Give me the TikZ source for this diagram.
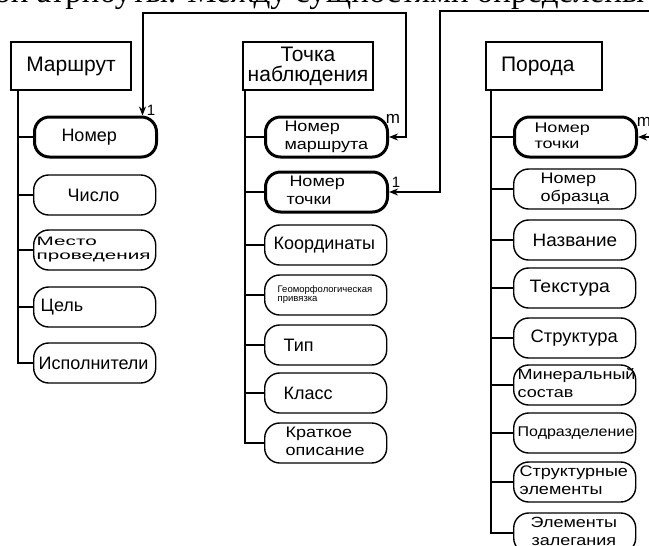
\documentclass[tikz,border=0pt]{standalone}
\usepackage{fontspec}
\setmainfont{Liberation Sans}
\newfontfamily\serifrm{Liberation Serif}
\usetikzlibrary{arrows.meta}
\newcommand\atx[4]{\makebox[122pt][l]{\hspace*{#1pt}\scalebox{#2}[#3]{#4}}}
\newcommand\twol[2]{\begin{tabular}{@{}l@{}}#1\\#2\end{tabular}}
\newcommand\twoc[2]{\begin{tabular}{@{}c@{}}#1\\#2\end{tabular}}
\begin{document}
\begin{tikzpicture}[x=1pt,y=-1pt,
  ent/.style={draw,line width=1.3pt,inner sep=0pt,minimum height=48pt,font=\fontsize{21}{20}\selectfont,align=center},
  attr/.style={draw,line width=1.4pt,rounded corners=15pt,minimum height=40pt,inner sep=0pt,anchor=west,font=\fontsize{18}{21}\selectfont},
  key/.style={attr,line width=3pt},
  trunk/.style={line width=2.2pt},
  branch/.style={line width=1.4pt},
  conn/.style={line width=2pt},
  tipd/.tip={Stealth[length=9pt,width=7pt]},
  lbl/.style={font=\fontsize{15}{15}\selectfont,inner sep=0pt}]
\useasboundingbox (0,0) rectangle (649,546);
\clip (0,0) rectangle (649,546);

% top text (cut-off line of the page)
\node[anchor=base west,inner sep=0pt,font=\serifrm\fontsize{33}{33}\selectfont] (toptext) at (295,2) {\llap{свои атрибуты. Между }сущностями определены};

% entities
\node[ent,minimum width=120pt] (marsh) at (71,66) {Маршрут};
\node[ent,minimum width=130pt] (tochka) at (308,66) {Точка\\наблюдения};
\node[ent,minimum width=116pt] (poroda) at (544,66) {\makebox[116pt][l]{\hspace*{15pt}Порода}};

% Маршрут attributes
\node[key]  (m1) at (33,137) {\atx{27}{1}{1}{Номер}};
\node[attr] (m2) at (33,195) {\atx{34}{1}{1}{Число}};
\node[attr] (m3) at (33,250) {\atx{3}{1.15}{0.68}{\twol{Место}{проведения}}};
\node[attr] (m4) at (33,307) {\atx{7}{1}{1}{Цель}};
\node[attr] (m5) at (33,363) {\atx{5}{1}{1}{Исполнители}};

% Точка наблюдения attributes
\node[key]  (tm1) at (264,137) {\atx{19}{1}{0.85}{\twol{Номер}{маршрута}}};
\node[key]  (tm2) at (264,192) {\atx{21}{1}{0.85}{\twol{\hspace*{3pt}Номер}{точки}}};
\node[attr] (tm3) at (264,245) {\atx{9}{1}{1}{Координаты}};
\node[attr] (tm4) at (264,295) {\atx{13}{1}{1}{\fontsize{9.5}{9}\selectfont\twol{Геоморфологическая}{привязка}}};
\node[attr] (tm5) at (264,345) {\atx{19}{1}{1}{Тип}};
\node[attr] (tm6) at (264,393) {\atx{19}{1}{1}{Класс}};
\node[attr] (tm7) at (264,443) {\atx{21}{1}{0.85}{\twol{Краткое}{описание}}};

% Порода attributes
\node[key]  (p1) at (513,137) {\atx{20}{1}{0.78}{\raisebox{-3pt}{\twol{Номер}{точки}}}};
\node[attr] (p2) at (513,189) {\atx{27}{1}{0.85}{\twol{Номер}{образца}}};
\node[attr] (p3) at (513,240) {\atx{19}{1.05}{1}{Название}};
\node[attr] (p4) at (513,288) {\atx{16}{1.08}{1}{Текстура}};
\node[attr] (p5) at (513,338) {\atx{17}{1.02}{1}{Структура}};
\node[attr] (p6) at (513,385) {\atx{4}{1}{0.82}{\twol{Минеральный}{состав}}};
\node[attr] (p7) at (513,433) {\atx{4}{1}{0.88}{\fontsize{16}{18}\selectfont Подразделение}};
\node[attr] (p8) at (513,482) {\atx{6}{1}{0.85}{\twol{Структурные}{элементы}}};
\node[attr] (p9) at (513,533) {\atx{17}{1}{0.82}{\twoc{Элементы}{залегания}}};

% trunks and branches
\coordinate (mt) at ([xshift=8pt]marsh.south west);
\coordinate (tt) at ([xshift=3pt]tochka.south west);
\coordinate (pt) at ([xshift=6pt]poroda.south west);
\draw[trunk] (mt) |- (m5.west);
\foreach \n in {m1,m2,m3,m4} \draw[branch] (\n.west) -- (\n.west -| mt);
\draw[trunk] (tt) |- (tm7.west);
\foreach \n in {tm1,tm2,tm3,tm4,tm5,tm6} \draw[branch] (\n.west) -- (\n.west -| tt);
\draw[trunk] (pt) |- (p9.west);
\foreach \n in {p1,p2,p3,p4,p5,p6,p7,p8} \draw[branch] (\n.west) -- (\n.west -| pt);

% connectors
\coordinate (c1a) at (406,13);
\coordinate (c2a) at (440,11);
\coordinate (c2e) at (660,11);
\coordinate (c3s) at (660,137);
\draw[conn,{tipd}-{tipd}] (tm1.east) -| (c1a) -| ([xshift=47pt]m1.north);
\draw[conn,{tipd}-] (tm2.east) -| (c2a) -- (c2e);
\draw[conn,-{tipd}] (c3s) -- (p1.east);

% cardinality labels
\node[lbl] (l1) at (151,110) {1};
\node[lbl,font=\fontsize{17}{17}\selectfont] (lm1) at (393,119) {m};
\node[lbl] (l2) at (396,182) {1};
\node[lbl,font=\fontsize{17}{17}\selectfont] (lm2) at (644,122) {m};
\end{tikzpicture}
\end{document}
